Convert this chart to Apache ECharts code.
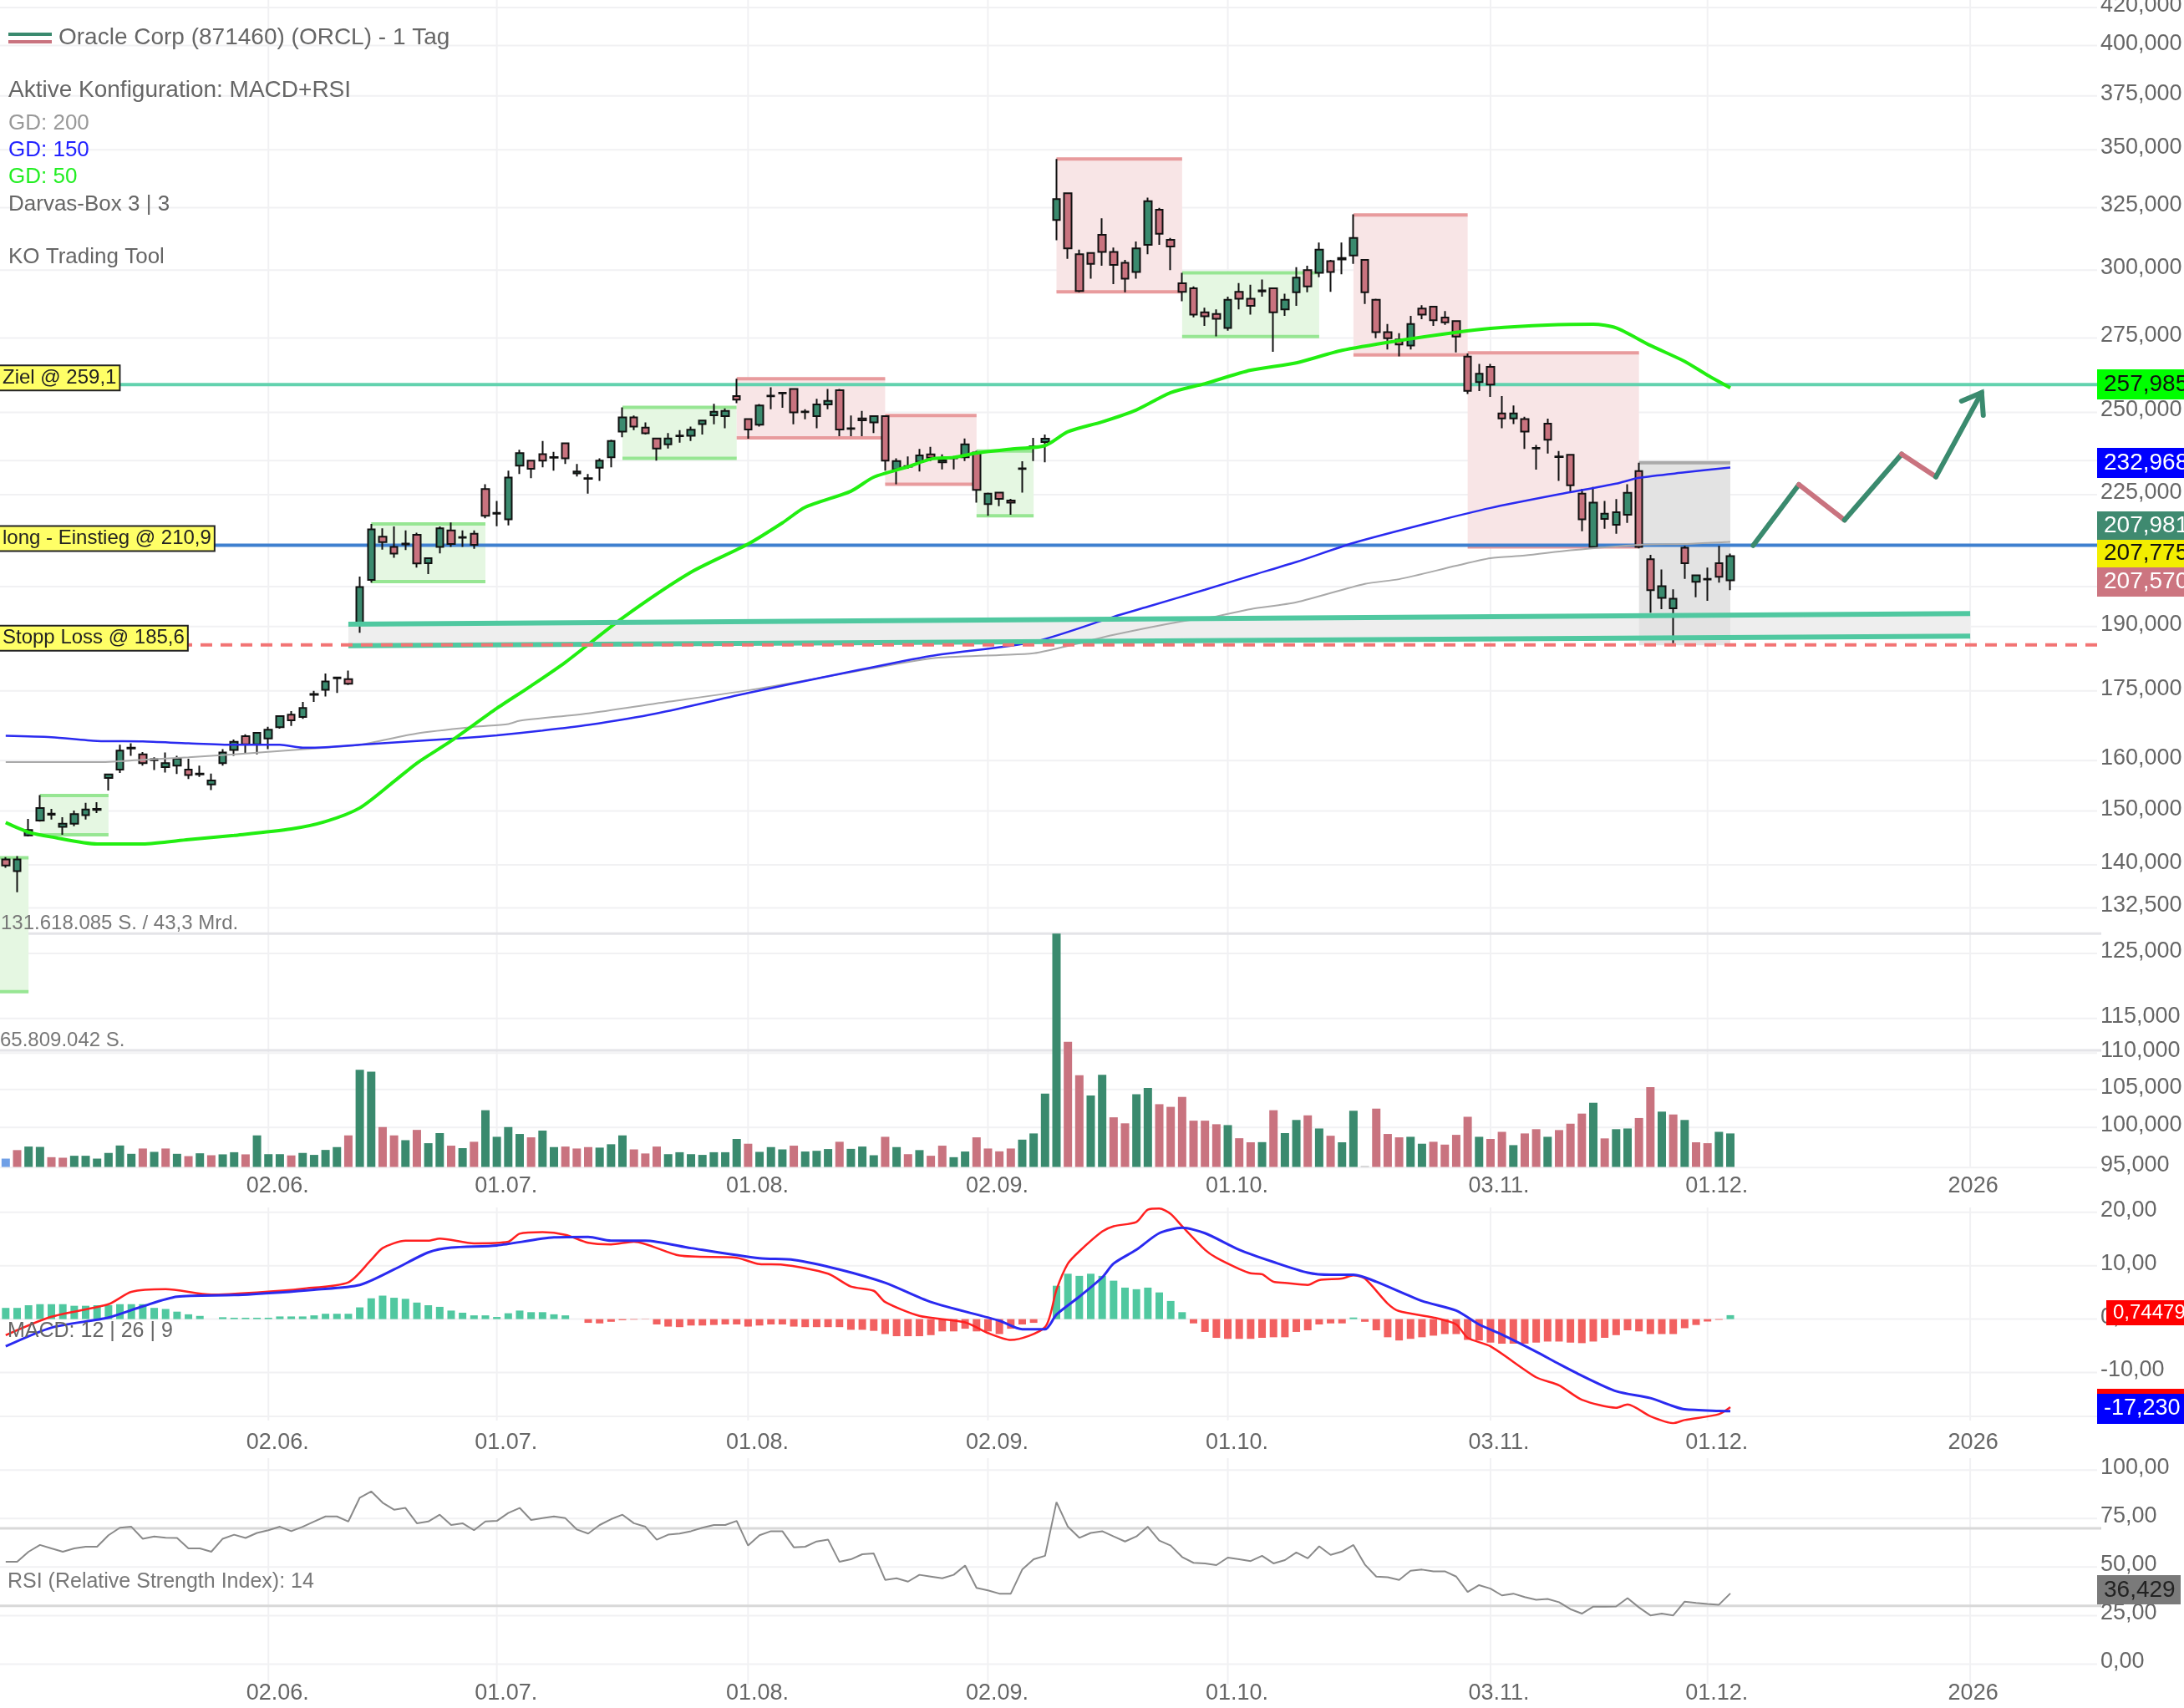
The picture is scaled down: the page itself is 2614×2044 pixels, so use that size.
<!DOCTYPE html>
<html>
<head>
<meta charset="utf-8">
<title>Oracle Corp</title>
<script src="https://cdn.jsdelivr.net/npm/echarts@6/dist/echarts.min.js"></script>
<style>
  html, body { margin: 0; padding: 0; background: #fff; }
  #chart { width: 2614px; height: 2044px; filter: blur(0.7px); }
</style>
</head>
<body>
<div id="chart"></div>
<script>
// candles, one row of 10 per line, oldest first
const opens = [
  141.0,138.9,145.4,148.2,149.3,147.0,147.6,149.2,150.2,156.5,
  158.2,162.5,161.3,160.3,158.7,159.0,158.2,157.2,155.2,159.5,
  162.2,165.1,163.4,164.6,167.0,169.7,169.2,174.1,175.2,178.0,
  177.6,190.7,201.7,213.2,210.4,211.1,213.7,206.1,210.4,214.9,
  212.9,214.0,226.6,219.6,218.0,233.5,235.0,237.0,235.9,240.3,
  231.2,229.6,232.9,236.0,243.9,248.4,245.2,241.8,240.0,242.5,
  242.6,246.3,249.1,248.8,255.3,247.9,246.1,255.2,256.4,257.6,
  250.1,248.8,252.6,257.2,244.8,248.1,246.8,248.8,232.4,233.2,
  234.7,236.9,234.5,235.7,236.0,237.5,222.3,225.6,223.3,232.5,
  239.2,240.7,319.9,331.1,306.2,306.7,313.9,307.1,302.8,299.3,
  309.9,324.1,311.9,295.0,293.1,284.2,283.6,278.6,291.8,289.2,
  291.9,293.1,285.3,291.6,300.0,299.0,303.5,304.7,305.7,304.0,
  288.8,277.1,274.5,272.4,285.6,286.3,282.3,281.0,268.5,259.9,
  265.0,249.7,248.1,247.9,238.7,246.4,236.1,236.8,225.3,210.4,
  218.1,216.5,219.3,231.9,207.1,197.1,194.5,210.2,201.2,201.8,
  206.1,201.6
];
const closes = [
  139.9,141.0,146.4,150.6,149.5,147.6,149.4,150.3,150.4,157.2,
  162.1,162.7,159.5,160.1,159.5,160.4,157.1,157.4,156.0,161.7,
  163.9,163.4,165.8,166.5,169.4,168.5,171.2,174.3,177.1,177.8,
  176.6,199.9,215.2,211.7,208.6,211.3,206.0,207.4,215.5,211.2,
  213.1,211.0,219.0,219.8,230.0,237.3,232.6,235.0,236.1,235.7,
  231.8,229.8,235.0,241.0,248.4,245.5,243.4,238.7,241.8,242.7,
  244.5,247.4,250.2,250.5,254.1,244.6,252.2,255.4,256.2,250.0,
  250.3,252.6,253.7,244.6,245.0,247.5,248.8,235.0,234.9,233.4,
  236.6,235.9,235.1,235.9,240.0,226.4,225.3,223.8,222.7,232.7,
  239.4,241.7,328.6,308.5,292.1,302.4,307.1,302.0,296.7,308.5,
  327.7,314.3,309.2,291.8,283.4,282.8,281.9,288.8,289.2,286.6,
  292.3,284.2,288.8,297.1,293.8,308.0,299.3,304.1,312.6,291.6,
  277.1,274.9,272.7,280.0,283.4,281.3,280.6,275.5,257.0,262.7,
  259.1,248.1,249.7,243.9,238.9,241.4,236.3,227.7,218.0,222.7,
  219.6,220.0,225.5,210.4,199.1,200.1,196.9,206.1,202.9,202.0,
  202.5,207.98
];
const lows = [
  139.5,135.2,145.2,148.0,148.4,145.5,147.1,148.4,149.6,154.0,
  157.5,161.0,159.0,158.1,157.6,157.3,156.3,156.7,154.1,159.0,
  161.0,161.6,161.3,162.4,166.7,167.3,168.8,172.5,173.7,174.5,
  176.3,188.5,201.0,209.7,207.5,209.6,204.9,203.2,208.7,210.4,
  210.4,209.9,218.3,216.1,216.3,231.0,229.8,233.0,232.0,234.0,
  230.3,225.3,229.0,233.0,242.2,244.4,243.0,235.0,238.7,240.5,
  241.0,243.0,246.2,245.0,253.0,241.7,245.5,251.0,251.5,246.2,
  247.8,245.0,251.0,242.5,242.5,242.5,243.5,232.0,228.0,232.6,
  231.8,234.9,232.4,232.4,234.9,222.7,219.0,221.7,219.3,225.6,
  234.9,234.5,311.7,304.4,291.6,296.7,301.7,294.7,291.6,296.7,
  306.2,309.9,300.0,288.3,282.4,279.3,275.6,277.6,285.3,283.4,
  290.0,270.2,282.9,286.6,291.6,297.3,291.8,298.4,302.4,287.3,
  274.9,271.0,268.6,271.0,281.7,279.3,279.7,270.0,256.0,256.9,
  255.0,245.0,246.3,238.6,232.3,237.2,229.0,225.9,214.7,210.4,
  215.4,214.0,217.0,210.0,193.4,194.3,186.0,202.0,197.3,196.4,
  201.0,199.1
];
const highs = [
  141.4,141.6,148.5,153.1,150.4,148.8,150.1,151.6,151.7,157.4,
  163.3,163.6,161.8,160.7,161.7,161.0,160.4,159.0,157.4,162.4,
  164.4,165.5,165.9,167.1,169.5,170.5,172.5,175.0,178.9,178.1,
  179.6,202.6,216.7,215.5,216.0,214.9,214.3,207.5,216.0,217.1,
  214.9,214.9,228.0,223.2,232.0,238.3,235.3,241.0,237.7,240.5,
  234.0,231.0,235.7,241.4,251.6,249.0,246.8,242.0,243.5,244.4,
  245.5,247.5,252.8,251.3,261.0,248.1,252.7,258.2,256.5,257.8,
  251.0,254.4,257.6,257.6,249.0,250.5,249.0,249.0,235.7,236.3,
  238.6,239.2,236.9,236.4,241.8,238.0,225.6,225.7,223.8,234.8,
  242.0,243.0,345.9,331.3,308.0,306.9,320.6,308.8,304.0,311.2,
  329.2,324.9,312.6,299.0,293.8,285.9,285.3,290.0,295.1,294.4,
  296.4,293.4,291.1,301.1,301.7,310.8,304.0,310.8,322.2,304.1,
  289.2,280.0,276.7,282.9,286.8,286.6,284.7,281.2,269.6,266.0,
  266.0,255.3,252.2,248.6,239.8,248.0,237.9,236.9,226.7,227.2,
  223.2,223.7,228.0,234.4,208.3,204.4,199.3,210.7,203.1,204.9,
  210.7,208.6
];

// volume in millions of shares, kinds: G up, R down, B first bar, N no colour
const volumes = [
  4.7,9.5,11.5,11.3,5.5,5.2,6.3,6.3,4.7,7.9,
  12.1,7.4,10.4,8.5,10.4,7.4,6.1,7.7,6.6,7.1,
  8.3,7.1,17.8,7.2,7.2,6.5,7.9,6.8,9.6,11.2,
  17.8,54.8,53.7,22.5,17.8,15.1,20.9,13.4,19.1,12,
  10.6,14.2,32,17,22.5,18.6,16.7,20.5,11.2,11.5,
  10.4,11.2,10.9,12.8,17.8,9.9,7.6,11.5,7.2,8.3,
  7.2,6.8,8.3,8.3,15.8,13.1,8.5,11.2,9.9,12,
  8.7,9.1,10.1,14.2,10.2,11.5,6.6,17,11.2,7.2,
  9.5,6.3,12,5.5,8.7,16.7,10.4,8.8,10.4,15.4,
  18.9,41.4,131.6,70.6,51.7,40.3,52,28,24.6,41,
  44.6,35.4,33.9,39.5,26.1,26.1,24.1,23.6,16.2,13.9,
  14,32,19.1,26.5,29.1,21.7,17.6,13.9,31.7,0.5,
  32.9,18.6,16.7,17,13.1,14.2,12.6,18.1,28.3,17,
  15.8,19.8,12.3,18.9,21.3,17,20.8,24.4,30.1,36.2,
  16.1,21.3,21.7,27.6,45,31.2,29.6,26.5,13.9,13.4,
  19.8,18.9
];
const volumeKinds = (
  'BRGGRRGGGG' + 'GGRGRGRGRG' + 'GRGGGRGGGG' + 'RGGRRGRGGR' + 'GRGGGGRGGR' +
  'RRGGGRRRGG' + 'GGGGGRGGGR' + 'GGGRGGGRGR' + 'GRRGGRRRRG' + 'GGGRRGGRRG' +
  'GRRRRRRGRR' + 'GRGGRGRGGN' + 'RRRGGRRRRG' + 'RRGRRGRRRG' + 'RGGRRGRGRRGG'
).split('');

// moving averages, read at the candle index in the *Idx arrays
const gd50Idx = [0,2,4,8,12,16,20,25,28,31,34,36,39,43,46,49,54,60,65,68,70,74,76,79,81,83,85,88,91,93,96,99,102,105,109,113,117,122,127,130,135,139,141,144,147,149,151];
const gd50 = [147.8,146.0,145.1,143.8,143.8,144.6,145.4,146.6,148,150.6,155.8,159.5,164.1,171.1,176.1,181.5,192.1,203.7,211.2,217,221.4,226,230.1,233.2,235.5,236,237.3,238.5,239.6,243.9,247,250.8,256.4,259.4,263.9,266.4,270.7,274.1,277,278.4,279.6,279.9,278.6,272.4,266.9,262.2,257.985];
const gd150Idx = [0,4,8,12,16,20,24,26,28,31,36,40,43,47,51,57,65,73,81,90,97,100,105,109,113,118,125,130,136,141,143,147,151];
const gd150 = [165.2,164.9,164.1,164,163.6,163.3,163.3,162.7,162.8,163.3,164.1,164.7,165.3,166.3,167.5,170,174.5,178.8,183,186.3,192.4,194.9,199.2,202.8,206.4,211.5,217.3,221.2,225.1,228.2,229.9,231.5,232.968];
const gd200Idx = [0,8,12,16,20,24,28,31,36,41,44,45,51,57,65,73,81,87,90,94,97,103,106,109,113,119,122,127,130,133,137,143,147,151];
const gd200 = [159.7,159.7,160.2,160.7,161.3,162,162.7,163.3,165.7,167.1,167.7,168.4,170,172.2,175.1,178.7,182.4,183.2,183.6,186,188,191.3,192.5,194.3,196,200.7,201.9,205.4,207.4,208.1,209.5,211,211.2,211.8];

// MACD 12 | 26 | 9
const macdIdx = [0,4,9,11,14,18,22,26,30,32,33,35,37,38,41,44,45,47,49,51,53,55,59,64,66,68,72,74,76,77,80,84,86,88,91,92,93,94,96,97,99,100,101,102,103,105,106,108,109,110,111,112,114,115,117,118,119,121,122,125,127,128,130,134,136,138,141,142,144,146,147,150,151];
const macdLine = [-3,0.45,2.8,5.1,5.6,4.6,5,5.7,6.9,11.1,13.3,14.7,14.7,15.1,14.2,14.5,16,16.3,15.8,14.3,14,14.5,11.9,11.5,10.3,10.2,8.5,6.1,5.3,3.2,0.6,-0.6,-2.6,-3.9,-1.5,5.5,10.4,12.7,16.4,17.4,18.2,20.5,20.7,19.7,17.4,13,11.5,9.4,8.6,8.4,7,6.8,6.4,7.3,7.6,8.2,7.6,2.9,1.5,0.3,-1,-3.5,-5.1,-10.9,-12.4,-15.1,-16.6,-16,-18.2,-19.5,-18.9,-17.8,-16.49];
const signalIdx = [0,4,9,12,15,20,24,27,31,34,37,39,43,48,51,53,56,60,66,69,73,77,81,87,89,91,92,94,96,97,99,101,103,105,108,111,114,116,118,120,124,127,129,131,134,136,138,141,144,146,147,150,151];
const signalLine = [-5.1,-1.6,0.3,2.4,4.2,4.5,5,5.5,6.4,9.3,12.5,13.4,13.8,15.3,15.4,14.7,14.7,13.3,11.4,11.1,9.3,6.8,3.2,-0.3,-1.9,-1.9,0.85,4.2,7.8,10.4,13,16.1,17.1,16.1,13,10.7,8.7,8.3,8.3,7,3.4,1.6,-1,-2.9,-6.1,-8.4,-10.6,-13.5,-14.8,-16.3,-16.9,-17.2,-17.23];
const macdHist = [
  2.1,2.1,2.6,2.8,2.8,2.8,2.5,2.5,2.6,2.6,
  2.8,2.8,2.8,2.1,1.9,1.4,0.9,0.6,0,0.35,
  0.26,0.26,0.26,0.26,0.5,0.5,0.5,0.7,1,1,
  1,2.2,3.9,4.4,4,3.8,3.1,2.6,2.3,1.6,
  1.2,0.7,0.7,0.4,1.1,1.6,1.3,1.3,0.9,0.7,
  0,-0.7,-0.8,-0.5,-0.2,-0.1,-0.05,-1,-1.4,-1.5,
  -1.2,-1.2,-1.1,-1,-1,-1.4,-1.2,-1,-1,-1.4,
  -1.5,-1.5,-1.5,-1.5,-2,-2,-2.2,-2.8,-3.2,-3.2,
  -3.2,-3,-2.3,-2.3,-1.8,-2.3,-2.3,-2.8,-1.8,-1,
  -0.7,0,6.25,8.5,8.1,8.5,8.1,7.2,5.9,5.6,
  5.9,5,3.4,1.3,-0.8,-2.4,-3.5,-3.7,-3.7,-3.7,
  -3.5,-3.4,-3.4,-2.4,-2.1,-1,-0.8,-0.8,0.3,-0.5,
  -2.1,-3.4,-4,-3.7,-3.4,-3.1,-2.8,-2.8,-3.9,-4,
  -4.4,-4.6,-4.6,-4.6,-4.4,-4.2,-4.2,-4.4,-4.5,-4.2,
  -3.5,-3,-2.1,-2.3,-2.8,-2.8,-2.8,-1.7,-1.1,-0.45,
  -0.13,0.74
];

// RSI 14
const rsi = [
  52.7,52.7,57.9,61.4,59.6,57.9,59.6,60.5,60.5,66.4,
  70.3,70.8,64.6,65.8,65.1,65,59.6,59.6,57.9,64.6,
  66.7,65,67.6,69,70.8,68.5,70.8,73.5,76.1,76.1,
  73.5,85.8,89,83.2,79.6,80.5,72.6,73.5,77,71.7,
  72.6,69,73.5,73.8,77.9,80.5,74.3,75.2,76.1,75.2,
  69.4,67.3,71.7,74.7,77,72.6,70.8,64.1,66.7,67.3,
  68.5,70.3,71.7,71.7,73.8,61.1,66.4,68.5,68.5,60.2,
  60.5,63.2,64.2,52.7,54,56.6,57,43.4,44.2,42.5,
  46,45.1,44.2,46,50.8,39.3,38,36.3,36.3,48.7,
  54,55.8,83.5,70.8,65.1,67.6,68.5,65.8,63.2,65.8,
  70.8,63.7,61.1,55.2,52.2,51.9,51,54.9,54,53.1,
  55.8,51.9,53.6,57.5,54.5,60.7,56.3,58,61.4,51.3,
  45.1,44.8,43.4,48.1,48.7,47.8,47.8,45.1,37.2,40.7,
  38.9,35.4,36.3,34.5,33.1,33.6,31.9,28.3,26,29.6,
  29.6,29.7,34,29.2,25.1,26,25.1,32.2,31.5,31,
  30.6,36.43
];

// Darvas boxes
const boxStart = [-1,3,32,54,64,77,85,92,103,118,128,143];
const boxEnd = [2,9,42,64,77,85,90,103,115,128,143,151];
const boxTop = [141.3,153,216.7,251.6,261,249,237.9,345.9,299,322,269.8,234.4];
const boxBottom = [119,145.5,201.3,235.7,242,228,219,291.8,275.5,269.1,210.4,185.5];
const boxKinds = ['G','G','G','G','R','R','G','R','G','R','R','N'];

// KO tool
const levelPrices = [259.1, 210.9, 185.6];
const levelNames = ['Ziel @ 259,1', 'long - Einstieg @ 210,9', 'Stopp Loss @ 185,6'];
const corridorIdx = [30, 172];
const corridorTop = [190.6, 193.2];
const corridorBottom = [185.4, 187.7];
const pathIdx = [153, 157, 161, 166, 169, 173];
const pathPrices = [210.8, 227.9, 217.8, 237, 230.2, 256.4];
const pathKinds = ['G', 'R', 'G', 'R', 'G'];

// axes
const tickIdx = [23, 43, 65, 86, 107, 130, 149, 172];
const tickNames = ['02.06.', '01.07.', '01.08.', '02.09.', '01.10.', '03.11.', '01.12.', '2026'];
const priceTicks = [420,400,375,350,325,300,275,250,225,190,175,160,150,140,132.5,125,115,110,105,100,95];
const priceExtraLines = [235, 200];
const volumeLines = [131.618085, 65.809042];
const macdTicks = [20, 10, 0, -10];
const macdExtraLines = [-18.2];
const rsiTicks = [100, 75, 50, 25, 0];
const rsiLevels = [70, 30];

const SLOTS = 184;
const categories = [];
for (let i = 0; i < SLOTS; i++) categories.push(String(i));

const FONT = '"Liberation Sans", Arial, sans-serif';
const GREEN = '#3a8a6e';
const RED = '#c9737f';
const TEAL = '#50c8a0';
const GRID_LINE = '#f1f1f3';
const LINE_END = 2510;

const chart = echarts.init(document.getElementById('chart'), null, { renderer: 'canvas' });

const pairs = (xs, ys) => xs.map((x, i) => [x, ys[i]]);

// horizontal grid lines with their value label on the right
function hLines(axis, values, lineColor, lineWidth, fmt) {
  return {
    type: 'custom', xAxisIndex: axis, yAxisIndex: axis, silent: true, z: 0,
    data: values.map(v => [0, v]),
    renderItem: (params, api) => {
      const y = api.coord([0, api.value(1)])[1];
      const kids = [{
        type: 'line',
        shape: { x1: 0, y1: y, x2: fmt ? LINE_END : LINE_END + 5, y2: y },
        style: { stroke: lineColor, lineWidth: lineWidth }
      }];
      if (fmt) {
        kids.push({
          type: 'text',
          style: {
            text: fmt(api.value(1)), x: 2514, y: y - 2.5, verticalAlign: 'middle',
            fill: '#666', font: '27px ' + FONT
          }
        });
      }
      return { type: 'group', children: kids };
    }
  };
}

// vertical grid lines at the month starts; the date sits at labelY when given
function vLines(axis, top, bottom, labelY) {
  return {
    type: 'custom', xAxisIndex: axis, yAxisIndex: axis, silent: true, z: 0,
    data: tickIdx.map(v => [v, 1]),
    renderItem: (params, api) => {
      const x = api.coord([api.value(0), 1])[0];
      return {
        type: 'group',
        children: [
          { type: 'line', shape: { x1: x, y1: top, x2: x, y2: bottom }, style: { stroke: GRID_LINE, lineWidth: 2 } },
          {
            type: 'text',
            style: {
              text: tickNames[params.dataIndex], x: x - 26.5, y: labelY, verticalAlign: 'middle',
              fill: '#666', font: '27px ' + FONT
            }
          }
        ]
      };
    }
  };
}

function maLine(name, xs, ys, color, width) {
  return {
    name: name, type: 'line', xAxisIndex: 0, yAxisIndex: 0,
    data: pairs(xs, ys), showSymbol: false, symbol: 'none', silent: true, z: 4, smooth: 0.25,
    lineStyle: { color: color, width: width }
  };
}

const boxSeries = {
  type: 'custom', xAxisIndex: 0, yAxisIndex: 0, silent: true, z: 1,
  data: boxStart.map((_, i) => [i, 200]),
  renderItem: (params, api) => {
    const i = params.dataIndex;
    const a = api.coord([boxStart[i], boxTop[i]]);
    const b = api.coord([boxEnd[i], boxBottom[i]]);
    const kind = boxKinds[i];
    const fill = kind === 'G' ? '#e5f7e2' : kind === 'R' ? '#f8e5e6' : '#e3e3e3';
    const edge = kind === 'G' ? '#97e693' : kind === 'R' ? '#e89b9d' : '#aaaaaa';
    const kids = [
      { type: 'rect', shape: { x: a[0], y: a[1], width: b[0] - a[0], height: b[1] - a[1] }, style: { fill: fill } },
      { type: 'line', shape: { x1: a[0], y1: a[1], x2: b[0], y2: a[1] }, style: { stroke: edge, lineWidth: 4 } }
    ];
    if (kind !== 'N') {
      kids.push({ type: 'line', shape: { x1: a[0], y1: b[1], x2: b[0], y2: b[1] }, style: { stroke: edge, lineWidth: 4 } });
    }
    return { type: 'group', children: kids };
  }
};

const corridorFill = {
  type: 'custom', xAxisIndex: 0, yAxisIndex: 0, silent: true, z: 1,
  data: [[0, 200]],
  renderItem: (params, api) => ({
    type: 'polygon',
    shape: {
      points: [
        api.coord([corridorIdx[0], corridorTop[0]]),
        api.coord([corridorIdx[1], corridorTop[1]]),
        api.coord([corridorIdx[1], corridorBottom[1]]),
        api.coord([corridorIdx[0], corridorBottom[0]])
      ]
    },
    style: { fill: '#eeeeee' }
  })
};

const corridorLines = {
  type: 'custom', xAxisIndex: 0, yAxisIndex: 0, silent: true, z: 5,
  data: [[0, 200]],
  renderItem: (params, api) => {
    const line = ys => {
      const a = api.coord([corridorIdx[0], ys[0]]);
      const b = api.coord([corridorIdx[1], ys[1]]);
      return {
        type: 'line',
        shape: { x1: a[0], y1: a[1], x2: b[0], y2: b[1] },
        style: { stroke: TEAL, lineWidth: 6 }
      };
    };
    return { type: 'group', children: [line(corridorTop), line(corridorBottom)] };
  }
};

// index 0 and 1 run under the candles, the dashed stop runs over the corridor
function levelSeries(indexes, z) {
  return {
    type: 'custom', xAxisIndex: 0, yAxisIndex: 0, silent: true, z: z,
    data: indexes.map(i => [i, levelPrices[i]]),
    renderItem: (params, api) => {
      const i = indexes[params.dataIndex];
      const y = api.coord([0, levelPrices[i]])[1];
      const color = i === 0 ? '#62d2ae' : i === 1 ? '#3f80cf' : '#f27474';
      return {
        type: 'line',
        shape: { x1: 0, y1: y, x2: i === 2 ? LINE_END + 4 : LINE_END + 6, y2: y },
        style: { stroke: color, lineWidth: 4, lineDash: i === 2 ? [14, 10] : null }
      };
    }
  };
}

const levelLabels = {
  type: 'custom', xAxisIndex: 0, yAxisIndex: 0, silent: true, z: 7,
  data: levelPrices.map(v => [0, v]),
  renderItem: (params, api) => {
    const i = params.dataIndex;
    const y = api.coord([0, levelPrices[i]])[1];
    return {
      type: 'text',
      style: {
        text: levelNames[i], x: 0, y: y - 8, verticalAlign: 'middle',
        fill: '#222', font: '24px ' + FONT,
        backgroundColor: '#ffff66', borderColor: '#222', borderWidth: 2, padding: [2, 3]
      }
    };
  }
};

const pathSeries = {
  type: 'custom', xAxisIndex: 0, yAxisIndex: 0, silent: true, z: 5,
  data: pathKinds.map((k, i) => [i, 200]),
  renderItem: (params, api) => {
    const i = params.dataIndex;
    const a = api.coord([pathIdx[i], pathPrices[i]]);
    const b = api.coord([pathIdx[i + 1], pathPrices[i + 1]]);
    const color = pathKinds[i] === 'G' ? GREEN : RED;
    const kids = [{
      type: 'line',
      shape: { x1: a[0], y1: a[1], x2: b[0], y2: b[1] },
      style: { stroke: color, lineWidth: 6, lineCap: 'round' }
    }];
    if (i === pathKinds.length - 1) {
      kids.push({
        type: 'polyline',
        shape: { points: [[b[0] - 24, b[1] + 10], b, [b[0] + 2, b[1] + 27]] },
        style: { stroke: color, lineWidth: 6, fill: null, lineCap: 'round' }
      });
    }
    return { type: 'group', children: kids };
  }
};

const txt = (text, x, y, fill, size) => ({
  type: 'text', z: 100, silent: true,
  style: { text: text, x: x, y: y, verticalAlign: 'middle', fill: fill, font: size + 'px ' + FONT }
});

// price tags on the right edge
const tag = (label, x, y0, y1, bg, fg, size) => [
  { type: 'rect', z: 101, silent: true, shape: { x: x, y: y0, width: 2614 - x, height: y1 - y0 }, style: { fill: bg } },
  { type: 'text', z: 102, silent: true, style: { text: label, x: x + 8, y: (y0 + y1) / 2, verticalAlign: 'middle', fill: fg, font: (size || 28) + 'px ' + FONT } }
];

const graphics = [
  { type: 'line', z: 100, silent: true, shape: { x1: 10, y1: 41, x2: 62, y2: 41 }, style: { stroke: GREEN, lineWidth: 4 } },
  { type: 'line', z: 100, silent: true, shape: { x1: 10, y1: 50, x2: 62, y2: 50 }, style: { stroke: RED, lineWidth: 4 } },
  txt('Oracle Corp (871460) (ORCL) - 1 Tag', 70, 45, '#666', 28),
  txt('Aktive Konfiguration: MACD+RSI', 10, 108, '#666', 28),
  txt('GD: 200', 10, 148, '#999', 26),
  txt('GD: 150', 10, 180, '#2222ff', 26),
  txt('GD: 50', 10, 212, '#22ee22', 26),
  txt('Darvas-Box 3 | 3', 10, 245, '#666', 26),
  txt('KO Trading Tool', 10, 308, '#666', 26),
  txt('131.618.085 S. / 43,3 Mrd.', 1, 1105, '#777', 24),
  txt('65.809.042 S.', 0, 1245, '#777', 24),
  txt('MACD: 12 | 26 | 9', 9, 1593, '#666', 25),
  txt('RSI (Relative Strength Index): 14', 9, 1893, '#777', 25)
].concat(
  tag('257,985', 2510, 442, 478, '#00ff00', '#111'),
  tag('232,968', 2510, 536, 572, '#0000ff', '#fff'),
  tag('207,981', 2510, 612, 646, '#3f8a70', '#fff'),
  tag('207,775', 2510, 646, 679, '#f3ee00', '#111'),
  tag('207,570', 2510, 679, 714, '#cc7580', '#fff'),
  tag('0,74479', 2521, 1556, 1586, '#ff0000', '#fff', 24),
  [{ type: 'rect', z: 101, silent: true, shape: { x: 2510, y: 1662, width: 104, height: 7 }, style: { fill: '#ff0000' } }],
  tag('-17,230', 2510, 1668, 1704, '#0000ff', '#fff', 27),
  [{ type: 'rect', z: 101, silent: true, shape: { x: 2510, y: 1885, width: 100, height: 35 }, style: { fill: '#7a7a7a' } }],
  [{ type: 'text', z: 102, silent: true, style: { text: '36,429', x: 2518, y: 1903, verticalAlign: 'middle', fill: '#222', font: '28px ' + FONT } }]
);

const xAxisBase = grid => ({
  type: 'category', gridIndex: grid, data: categories, boundaryGap: true,
  axisLine: { show: false }, axisTick: { show: false }, splitLine: { show: false }, axisLabel: { show: false }
});

const price = v => v.toFixed(3).replace('.', ',');
const dec2 = v => v.toFixed(2).replace('.', ',');

chart.setOption({
  animation: false,
  backgroundColor: '#fff',
  grid: [
    { left: 0, top: 0, width: 2515.3, height: 1396.5 },
    { left: 0, top: 1117.3, width: 2515.3, height: 279.2 },
    { left: 0, top: 1445.4, width: 2515.3, height: 257.8 },
    { left: 0, top: 1759.3, width: 2515.3, height: 232.1 }
  ],
  xAxis: [xAxisBase(0), xAxisBase(1), xAxisBase(2), xAxisBase(3)],
  yAxis: [
    { type: 'log', gridIndex: 0, min: 95.07, max: 424.08, show: false },
    { type: 'value', gridIndex: 1, min: 0, max: 131.618085, show: false },
    { type: 'value', gridIndex: 2, min: -19.5, max: 20.85, show: false },
    { type: 'value', gridIndex: 3, min: 0, max: 100, show: false }
  ],
  graphic: graphics,
  series: [
    hLines(0, priceTicks, GRID_LINE, 2, price),
    hLines(0, priceExtraLines, GRID_LINE, 2),
    vLines(0, 0, 1396, 1420),
    hLines(1, volumeLines, '#e4e4e8', 3),
    vLines(2, 1445, 1700, 1727),
    hLines(2, macdTicks, GRID_LINE, 2, dec2),
    hLines(2, macdExtraLines, GRID_LINE, 2),
    vLines(3, 1745, 2016, 2027),
    hLines(3, rsiTicks, GRID_LINE, 2, dec2),
    hLines(3, rsiLevels, '#d8d8d8', 3),
    corridorFill,
    boxSeries,
    levelSeries([0, 1], 2),
    {
      name: 'Oracle', type: 'candlestick', xAxisIndex: 0, yAxisIndex: 0, barWidth: 9, z: 3, silent: true,
      data: opens.map((o, i) => [o, closes[i], lows[i], highs[i]]),
      itemStyle: { color: GREEN, color0: RED, borderColor: '#111', borderColor0: '#111', borderWidth: 2 }
    },
    maLine('GD 200', gd200Idx, gd200, '#a9a9a9', 2),
    maLine('GD 150', gd150Idx, gd150, '#2a2af0', 2.5),
    maLine('GD 50', gd50Idx, gd50, '#22ee11', 4),
    corridorLines,
    levelSeries([2], 6),
    pathSeries,
    levelLabels,
    {
      name: 'Volumen', type: 'bar', xAxisIndex: 1, yAxisIndex: 1, barWidth: 10, z: 3, silent: true,
      data: volumes.map((v, i) => ({
        value: v,
        itemStyle: { color: { G: GREEN, R: RED, B: '#6f9fe6', N: '#bbbbbb' }[volumeKinds[i]] }
      }))
    },
    {
      name: 'Histogramm', type: 'bar', xAxisIndex: 2, yAxisIndex: 2, barWidth: 9, z: 2, silent: true,
      data: macdHist,
      itemStyle: { color: p => (p.value >= 0 ? TEAL : '#f26060') }
    },
    {
      name: 'MACD', type: 'line', xAxisIndex: 2, yAxisIndex: 2, data: pairs(macdIdx, macdLine), smooth: 0.25,
      symbol: 'none', showSymbol: false, silent: true, z: 4, lineStyle: { color: '#ff2020', width: 2.5 }
    },
    {
      name: 'Signal', type: 'line', xAxisIndex: 2, yAxisIndex: 2, data: pairs(signalIdx, signalLine), smooth: 0.25,
      symbol: 'none', showSymbol: false, silent: true, z: 4, lineStyle: { color: '#2a2af0', width: 3 }
    },
    {
      name: 'RSI', type: 'line', xAxisIndex: 3, yAxisIndex: 3, data: rsi,
      symbol: 'none', showSymbol: false, silent: true, z: 4, lineStyle: { color: '#8a8a8a', width: 2 }
    }
  ]
});
</script>
</body>
</html>
